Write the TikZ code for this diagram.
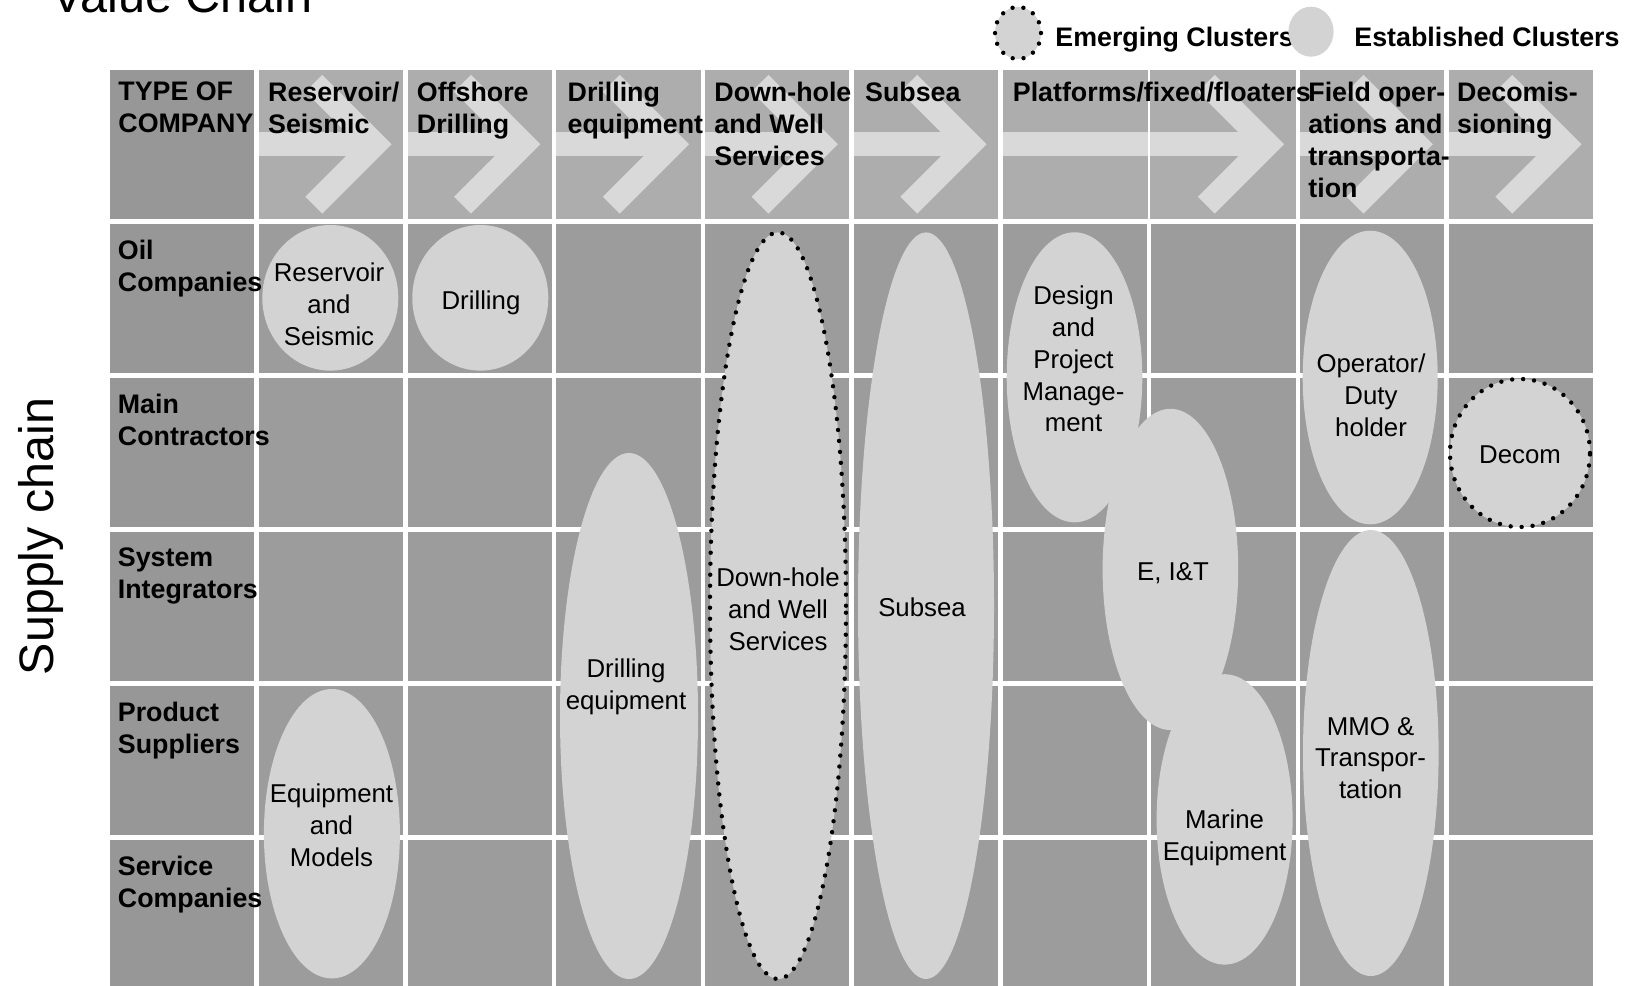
\documentclass[tikz,border=0pt]{standalone}
\usepackage{fontspec}
\setmainfont{Liberation Sans}
\usetikzlibrary{shapes.geometric}

\definecolor{cellgray}{HTML}{9C9C9C}
\definecolor{sidegray}{HTML}{979797}
\definecolor{headgray}{HTML}{ADADAD}
\definecolor{arrowgray}{HTML}{D9D9D9}
\definecolor{clustergray}{HTML}{D3D3D3}

\newcommand{\labelfont}{\bfseries\fontsize{13.4}{16}\selectfont}
\newcommand{\clusterfont}{\fontsize{12.9}{15.9}\selectfont}

\tikzset{
  cellbox/.style={fill=cellgray},
  sidebox/.style={fill=sidegray},
  headbox/.style={fill=headgray},
  flowarrow/.style={draw=arrowgray, line width=12pt},
  cluster/.style={ellipse, fill=clustergray, inner sep=0pt, outer sep=0pt},
  emerging/.style={cluster, draw=black, line width=2.2pt, dash pattern=on 0pt off 5.5pt, line cap=round},
  typelabel/.style={font=\labelfont, align=left, anchor=north west, inner sep=0pt},
  clusterlabel/.style={font=\clusterfont, align=center, inner sep=0pt},
}

\begin{document}
\begin{tikzpicture}[x=0.5pt, y=-0.5pt]
\useasboundingbox (0,0) rectangle (1626,985);

% titles
\node[anchor=base west, inner sep=0pt, font=\fontsize{24.3}{29}\selectfont] (title) at (51,12) {Value Chain};
\node[anchor=base, rotate=90, inner sep=0pt, font=\fontsize{24.2}{29}\selectfont] (supply) at (54,536.5) {Supply chain};

% legend
\node[emerging, minimum width=23pt, minimum height=26pt] (legemerging) at (1018,33) {};
\node[typelabel, anchor=base west] (legemergingtxt) at (1055,46) {Emerging Clusters};
\node[cluster, minimum width=22.6pt, minimum height=25pt] (legestablished) at (1311,31.7) {};
\node[typelabel, anchor=base west] (legestablishedtxt) at (1354,46) {Established Clusters};

% table body
\foreach \r in {1,...,5} {
  \pgfmathsetmacro\T{70+154*\r}
  \fill[sidebox] (110,\T) rectangle ++(144.25,148.5);
  \foreach \c in {1,...,9} {
    \pgfmathsetmacro\L{110+148.75*\c}
    \fill[cellbox] (\L,\T) rectangle ++(144.25,148.5);
  }
}

% header row with value chain arrows
\fill[sidebox] (110,70) rectangle ++(144.25,148.5);
\foreach \c in {1,2,3,4,5,8,9} {
  \pgfmathsetmacro\L{110+148.75*\c}
  \pgfmathsetmacro\V{\L+116}
  \pgfmathsetmacro\A{\L+55}
  \fill[headbox] (\L,70) rectangle ++(144.25,148.5);
  \draw[flowarrow] (\L,144.25) -- (\V,144.25);
  \draw[flowarrow] (\A,83.25) -- (\V,144.25) -- (\A,205.25);
}
\fill[headbox] (1002.5,70) rectangle (1295.5,218.5);
\draw[flowarrow] (1002.5,144.25) -- (1267.25,144.25);
\draw[flowarrow] (1206.25,83.25) -- (1267.25,144.25) -- (1206.25,205.25);
\draw[white, line width=1pt] (1149,70) -- (1149,218.5);

% clusters
\node[cluster, minimum width=68pt, minimum height=72.8pt] (reservoir) at (330.3,297.8) {};
\node[cluster, minimum width=68pt, minimum height=72.8pt] (drilling) at (480.3,297.8) {};
\node[cluster, minimum width=68pt, minimum height=144.7pt] (equipment) at (331.9,833.7) {};
\node[cluster, minimum width=69pt, minimum height=263pt] (drillequip) at (629,716) {};
\node[emerging, minimum width=68pt, minimum height=373.3pt] (downhole) at (778,605.7) {};
\node[cluster, minimum width=68pt, minimum height=373.3pt] (subsea) at (926,605.7) {};
\node[cluster, minimum width=67.8pt, minimum height=145pt] (design) at (1074.5,377.3) {};
\node[cluster, minimum width=67.8pt, minimum height=160.6pt] (eit) at (1170.4,569.4) {};
\node[cluster, minimum width=68pt, minimum height=145.2pt] (marine) at (1224.6,819.4) {};
\node[cluster, minimum width=67.5pt, minimum height=146.8pt] (operator) at (1370.2,377.5) {};
\node[cluster, minimum width=67.8pt, minimum height=223pt] (mmo) at (1370.8,753) {};
\node[emerging, minimum width=70pt, minimum height=74pt] (decom) at (1520,453) {};

\node[clusterlabel] (reservoirtxt) at (329,304) {Reservoir\\and\\Seismic};
\node[clusterlabel] (drillingtxt) at (481,303) {Drilling};
\node[clusterlabel] (equipmenttxt) at (331.5,825) {Equipment\\and\\Models};
\node[clusterlabel] (drillequiptxt) at (626,687) {Drilling\\equipment};
\node[clusterlabel] (downholetxt) at (778,609) {Down-hole\\and Well\\Services};
\node[clusterlabel] (subseatxt) at (922,607) {Subsea};
\node[clusterlabel] (designtxt) at (1073.5,359) {Design\\and\\Project\\Manage-\\ment};
\node[clusterlabel] (eittxt) at (1173,573) {E, I\&T};
\node[clusterlabel] (marinetxt) at (1224.6,838) {Marine\\Equipment};
\node[clusterlabel] (operatortxt) at (1371,395) {Operator/\\Duty\\holder};
\node[clusterlabel] (mmotxt) at (1370.6,758) {MMO \&\\Transpor-\\tation};
\node[clusterlabel] (decomtxt) at (1520,455) {Decom};

% column heads
\node[typelabel] (typehead) at (118,81.5) {TYPE OF\\COMPANY};
\node[typelabel] (reshead) at (267.75,81.5) {Reservoir/\\Seismic};
\node[typelabel] (offhead) at (416.5,81.5) {Offshore\\Drilling};
\node[typelabel] (drillhead) at (567.25,81.5) {Drilling\\equipment};
\node[typelabel] (downhead) at (714,81.5) {Down-hole\\and Well\\Services};
\node[typelabel] (subhead) at (864.75,81.5) {Subsea};
\node[typelabel] (plathead) at (1012.5,81.5) {Platforms/fixed/floaters};
\node[typelabel] (fieldhead) at (1308,81.5) {Field oper-\\ations and\\transporta-\\tion};
\node[typelabel] (decomhead) at (1456.75,81.5) {Decomis-\\sioning};

% row heads
\node[typelabel] (oilrow) at (117.5,239.5) {Oil\\Companies};
\node[typelabel] (mainrow) at (117.5,393.5) {Main\\Contractors};
\node[typelabel] (sysrow) at (117.5,547.5) {System\\Integrators};
\node[typelabel] (prodrow) at (117.5,701.5) {Product\\Suppliers};
\node[typelabel] (servrow) at (117.5,855.5) {Service\\Companies};
\end{tikzpicture}
\end{document}
